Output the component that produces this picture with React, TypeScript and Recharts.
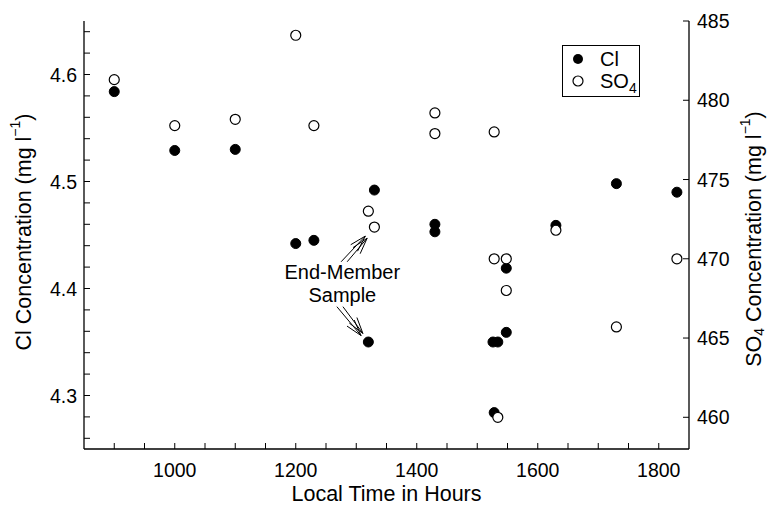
import React from "react";
import { ScatterChart, Scatter, XAxis, YAxis, ReferenceLine, ReferenceDot, Legend } from "recharts";

// Cl samples (filled circles, left axis)
const clTime = [900, 1000, 1100, 1200, 1230, 1320, 1330, 1430, 1430, 1526, 1534, 1528, 1548, 1548, 1630, 1730, 1830];
const clValue = [4.584, 4.529, 4.53, 4.442, 4.445, 4.35, 4.492, 4.46, 4.453, 4.35, 4.35, 4.284, 4.419, 4.359, 4.459, 4.498, 4.49];

// SO4 samples (open circles, right axis)
const so4Time = [900, 1000, 1100, 1200, 1230, 1320, 1330, 1430, 1430, 1528, 1528, 1534, 1548, 1548, 1630, 1730, 1830];
const so4Value = [481.3, 478.4, 478.8, 484.1, 478.4, 473.0, 472.0, 479.2, 477.9, 478.0, 470.0, 460.0, 470.0, 468.0, 471.8, 465.7, 470.0];

const xTicks = [900, 950, 1000, 1050, 1100, 1150, 1200, 1250, 1300, 1350, 1400, 1450, 1500, 1550, 1600, 1650, 1700, 1750, 1800];
const xLabelTicks = [1000, 1200, 1400, 1600, 1800];
const clTicks = [4.26, 4.28, 4.3, 4.32, 4.34, 4.36, 4.38, 4.4, 4.42, 4.44, 4.46, 4.48, 4.5, 4.52, 4.54, 4.56, 4.58, 4.6, 4.62, 4.64];
const so4Ticks = [460, 465, 470, 475, 480, 485];

const clData = clTime.map((t, i) => ({ t, v: clValue[i] }));
const so4Data = so4Time.map((t, i) => ({ t, v: so4Value[i] }));

const FONT = "'Liberation Sans', Arial, Helvetica, sans-serif";
const FS = 19.5; // tick labels
const TS = 21.5; // axis titles
const AS = 20; // annotation + legend

const LeftTick = ({ x, y, payload }: any) => {
  const v = payload.value;
  const major = Math.abs(v * 10 - Math.round(v * 10)) < 1e-6;
  return (
    <g>
      <line x1={x} y1={y} x2={x + 6} y2={y} stroke="#000" strokeWidth={1} />
      {major && (
        <text x={x - 7} y={y + 7} textAnchor="end" fontSize={FS} fontFamily={FONT} fill="#000">
          {v.toFixed(1)}
        </text>
      )}
    </g>
  );
};

const RightTick = ({ x, y, payload }: any) => (
  <g>
    <line x1={x - 6} y1={y} x2={x} y2={y} stroke="#000" strokeWidth={1} />
    <text x={x + 8} y={y + 7} textAnchor="start" fontSize={FS} fontFamily={FONT} fill="#000">
      {payload.value}
    </text>
  </g>
);

const BottomTick = ({ x, y, payload }: any) => (
  <g>
    <line x1={x} y1={y} x2={x} y2={y - 6} stroke="#000" strokeWidth={1} />
    {xLabelTicks.includes(payload.value) && (
      <text x={x} y={y + 28} textAnchor="middle" fontSize={FS} fontFamily={FONT} fill="#000">
        {payload.value}
      </text>
    )}
  </g>
);

const TopTick = ({ x, y }: any) => <line x1={x} y1={y} x2={x} y2={y + 5} stroke="#000" strokeWidth={1} />;

const leftTitle = ({ viewBox }: any) => {
  const cx = viewBox.x + 24;
  const cy = viewBox.y + viewBox.height / 2 - 3;
  return (
    <text x={cx} y={cy} transform={`rotate(-90 ${cx} ${cy})`} textAnchor="middle" dominantBaseline="central" fontSize={TS} fontFamily={FONT} fill="#000">
      Cl Concentration (mg l<tspan dy={-9} fontSize={14}>−1</tspan><tspan dy={9}>)</tspan>
    </text>
  );
};

const rightTitle = ({ viewBox }: any) => {
  const cx = viewBox.x + 65;
  const cy = viewBox.y + viewBox.height / 2 + 4;
  return (
    <text x={cx} y={cy} transform={`rotate(-90 ${cx} ${cy})`} textAnchor="middle" dominantBaseline="central" fontSize={TS} fontFamily={FONT} fill="#000">
      SO<tspan dy={5} fontSize={14}>4</tspan><tspan dy={-5}> Concentration (mg l</tspan><tspan dy={-9} fontSize={14}>−1</tspan><tspan dy={9}>)</tspan>
    </text>
  );
};

const bottomTitle = ({ viewBox }: any) => (
  <text x={viewBox.x + viewBox.width / 2} y={viewBox.y + 52} textAnchor="middle" fontSize={TS} fontFamily={FONT} fill="#000">
    Local Time in Hours
  </text>
);

const arrowShape = (p: any) => {
  const { x1, y1, x2, y2 } = p;
  const ang = Math.atan2(y2 - y1, x2 - x1);
  const len = 17;
  const spread = 0.28;
  const b1x = x2 - len * Math.cos(ang - spread);
  const b1y = y2 - len * Math.sin(ang - spread);
  const b2x = x2 - len * Math.cos(ang + spread);
  const b2y = y2 - len * Math.sin(ang + spread);
  return (
    <g stroke="#000" strokeWidth={1} fill="none">
      <line x1={x1} y1={y1} x2={x2} y2={y2} />
      <polyline points={`${b1x},${b1y} ${x2},${y2} ${b2x},${b2y}`} />
    </g>
  );
};

const textShape = (label: string) => (p: any) => (
  <text x={p.cx} y={p.cy} textAnchor="middle" fontSize={AS} fontFamily={FONT} fill="#000">
    {label}
  </text>
);

const filledDot = (p: any) => <circle cx={p.cx} cy={p.cy} r={5} fill="#000" stroke="#000" strokeWidth={1} />;
const openDot = (p: any) => <circle cx={p.cx} cy={p.cy} r={5} fill="#fff" stroke="#000" strokeWidth={1.2} />;

const LegendBox = () => (
  <div style={{ position: "absolute", left: 562, top: 45, width: 78, height: 52, border: "1px solid #000", boxSizing: "border-box", background: "#fff" }}>
    <svg width={76} height={50} style={{ position: "absolute", left: 0, top: 0 }}>
      <circle cx={15} cy={13} r={5} fill="#000" />
      <text x={37} y={20} fontSize={AS} fontFamily={FONT}>Cl</text>
      <circle cx={15} cy={35} r={5} fill="#fff" stroke="#000" strokeWidth={1.2} />
      <text x={37} y={42} fontSize={AS} fontFamily={FONT}>
        SO<tspan dy={5} fontSize={14}>4</tspan>
      </text>
    </svg>
  </div>
);

export default function App() {
  return (
    <div style={{ position: "absolute", left: 0, top: 0, width: 767, height: 505, background: "#fff" }}>
      <ScatterChart width={767} height={505} margin={{ top: 21, right: 18, bottom: 16, left: 0 }}>
        <XAxis
          xAxisId="bottom"
          type="number"
          dataKey="t"
          domain={[850, 1850]}
          allowDataOverflow
          ticks={xTicks}
          interval={0}
          height={40}
          tickSize={0}
          tickMargin={0}
          tickLine={false}
          tick={<BottomTick />}
          axisLine={{ stroke: "#000", strokeWidth: 1.3 }}
          label={bottomTitle}
        />
        <XAxis
          xAxisId="top"
          orientation="top"
          type="number"
          dataKey="t"
          domain={[850, 1850]}
          allowDataOverflow
          ticks={xTicks}
          interval={0}
          height={0}
          tickSize={0}
          tickMargin={0}
          tickLine={false}
          tick={<TopTick />}
          axisLine={{ stroke: "#000", strokeWidth: 1.3 }}
        />
        <YAxis
          yAxisId="left"
          type="number"
          dataKey="v"
          domain={[4.25, 4.65]}
          allowDataOverflow
          ticks={clTicks}
          interval={0}
          width={84}
          tickSize={0}
          tickMargin={0}
          tickLine={false}
          tick={<LeftTick />}
          axisLine={{ stroke: "#000", strokeWidth: 1.3 }}
          label={leftTitle}
        />
        <YAxis
          yAxisId="right"
          orientation="right"
          type="number"
          dataKey="v"
          domain={[458, 485]}
          allowDataOverflow
          ticks={so4Ticks}
          interval={0}
          width={60}
          tickSize={0}
          tickMargin={0}
          tickLine={false}
          tick={<RightTick />}
          axisLine={{ stroke: "#000", strokeWidth: 1.3 }}
          label={rightTitle}
        />
        <Legend align="center" verticalAlign="middle" layout="horizontal" content={() => null} />
        <Scatter name="Cl" data={clData} xAxisId="bottom" yAxisId="left" shape={filledDot} isAnimationActive={false} />
        <Scatter name="SO4" data={so4Data} xAxisId="bottom" yAxisId="right" shape={openDot} isAnimationActive={false} />
        <ReferenceLine xAxisId="bottom" yAxisId="left" segment={[{ x: 1275, y: 4.425 }, { x: 1315, y: 4.449 }]} shape={arrowShape} />
        <ReferenceLine xAxisId="bottom" yAxisId="left" segment={[{ x: 1285, y: 4.425 }, { x: 1318, y: 4.447 }]} shape={arrowShape} />
        <ReferenceLine xAxisId="bottom" yAxisId="left" segment={[{ x: 1268, y: 4.383 }, { x: 1308, y: 4.356 }]} shape={arrowShape} />
        <ReferenceLine xAxisId="bottom" yAxisId="left" segment={[{ x: 1278, y: 4.383 }, { x: 1311, y: 4.358 }]} shape={arrowShape} />
        <ReferenceDot xAxisId="bottom" yAxisId="left" x={1277} y={4.409} r={0} shape={textShape("End-Member")} />
        <ReferenceDot xAxisId="bottom" yAxisId="left" x={1277} y={4.387} r={0} shape={textShape("Sample")} />
      </ScatterChart>
      <LegendBox />
    </div>
  );
}
